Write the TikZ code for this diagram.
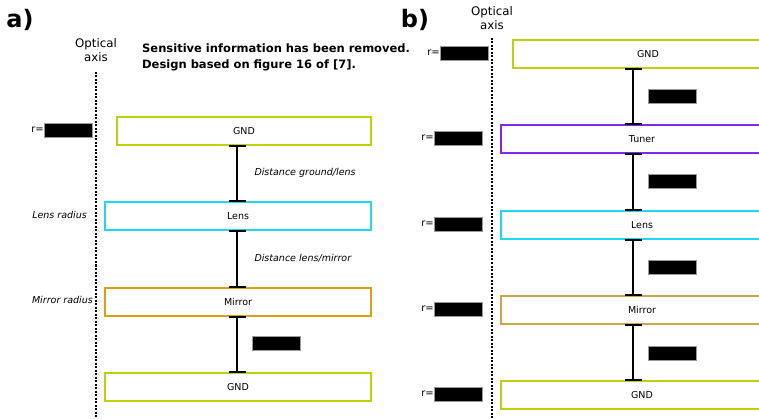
\documentclass[tikz,border=0pt]{standalone}
\usepackage{fontspec}
\setmainfont{DejaVu Sans}
\usetikzlibrary{arrows.meta}
\begin{document}
\begin{tikzpicture}[x=1pt,y=-1pt,
  blk/.style={draw=black!80!white,line width=2pt,fill=white,minimum height=28pt,inner sep=0pt,font=\fontsize{9.5}{11}\selectfont,anchor=north west},
  gndc/.style={blk,draw=gndcol},
  lensc/.style={blk,draw=lenscol},
  mirc/.style={blk,draw=mircol},
  tunc/.style={blk,draw=tuncol},
  gap/.style={line width=1.4pt,{Bar[width=17pt,line width=2pt]}-{Bar[width=17pt,line width=2pt]},shorten >=-1pt,shorten <=-1pt},
  redact/.style={fill=black,draw=black!40,line width=0.6pt,minimum width=48pt,minimum height=14pt,inner sep=0pt,anchor=north west},
  axisline/.style={dash pattern=on 2pt off 1.5pt,line width=1.6pt},
  small/.style={font=\fontsize{10}{12}\selectfont},
  lbl/.style={font=\fontsize{9.5}{11}\selectfont\itshape}
]
\definecolor{gndcol}{RGB}{190,208,10}
\definecolor{lenscol}{RGB}{30,215,245}
\definecolor{mircol}{RGB}{218,160,20}
\definecolor{mircolb}{RGB}{205,165,70}
\definecolor{tuncol}{RGB}{128,40,240}
\useasboundingbox (0,0) rectangle (759,419);
\clip (0,0) rectangle (759,419);

% ---------- panel a ----------
\node[font=\fontsize{24}{26}\bfseries\selectfont] (la) at (20,20) {a)};
\node[align=center,font=\fontsize{11.8}{14}\selectfont] (axa) at (96,50) {Optical\\axis};
\coordinate (axatop) at (96,72);
\coordinate (axabot) at (96,420);
\draw[axisline] (axatop) -- (axabot);
\node[anchor=north west,align=left,font=\fontsize{11.5}{15.5}\bfseries\selectfont,inner sep=0pt] (note) at (142,44)
  {Sensitive information has been removed.\\Design based on figure 16 of [7].};

\node[gndc,minimum width=254pt] (ag1) at (116,116) {GND};
\node[lensc,minimum width=266pt] (alens) at (104,201) {Lens};
\node[mirc,minimum width=266pt] (amir) at (104,287) {Mirror};
\node[gndc,minimum width=266pt] (ag2) at (104,372) {GND};

\coordinate (cxa) at (237,0);
\draw[gap] (ag1.south -| cxa) -- (alens.north -| cxa);
\draw[gap] (alens.south -| cxa) -- (amir.north -| cxa);
\draw[gap] (amir.south -| cxa) -- (ag2.north -| cxa);

\node[lbl,anchor=west] (d1) at (251,173) {Distance ground/lens};
\node[lbl,anchor=west] (d2) at (251,258) {Distance lens/mirror};
\node[redact] (ra3) at (252,336) {};

\node[small,anchor=east,inner sep=0pt] (rar) at (44,130) {r=};
\node[redact] (ra0) at (44,123) {};
\node[lbl,anchor=east,inner sep=0pt] (lr) at (87,215) {Lens radius};
\node[lbl,anchor=east,inner sep=0pt] (mr) at (93,300) {Mirror radius};

% ---------- panel b ----------
\node[font=\fontsize{24}{26}\bfseries\selectfont] (lb) at (415,20) {b)};
\node[align=center,font=\fontsize{11.8}{14}\selectfont] (axb) at (492,18) {Optical\\axis};
\coordinate (axbtop) at (492,38);
\coordinate (axbbot) at (492,420);
\draw[axisline] (axbtop) -- (axbbot);

\node[gndc,minimum width=270pt] (bg1) at (512,39) {GND};
\node[tunc,minimum width=282pt] (btun) at (500,124) {Tuner};
\node[lensc,minimum width=282pt] (blens) at (500,210) {Lens};
\node[blk,draw=mircolb,minimum width=282pt] (bmir) at (500,295) {Mirror};
\node[gndc,minimum width=282pt] (bg2) at (500,380) {GND};

\coordinate (cxb) at (633,0);
\draw[gap] (bg1.south -| cxb) -- (btun.north -| cxb);
\draw[gap] (btun.south -| cxb) -- (blens.north -| cxb);
\draw[gap] (blens.south -| cxb) -- (bmir.north -| cxb);
\draw[gap] (bmir.south -| cxb) -- (bg2.north -| cxb);

\node[redact] (rb1) at (648,89) {};
\node[redact] (rb2) at (648,174) {};
\node[redact] (rb3) at (648,260) {};
\node[redact] (rb4) at (648,346) {};

\node[small,anchor=east,inner sep=0pt] (rbr0) at (440,53) {r=};
\node[redact] (rbx0) at (440,46) {};
\node[small,anchor=east,inner sep=0pt] (rbr1) at (434,138) {r=};
\node[redact] (rbx1) at (434,131) {};
\node[small,anchor=east,inner sep=0pt] (rbr2) at (434,224) {r=};
\node[redact] (rbx2) at (434,217) {};
\node[small,anchor=east,inner sep=0pt] (rbr3) at (434,309) {r=};
\node[redact] (rbx3) at (434,302) {};
\node[small,anchor=east,inner sep=0pt] (rbr4) at (434,394) {r=};
\node[redact] (rbx4) at (434,387) {};
\end{tikzpicture}
\end{document}
